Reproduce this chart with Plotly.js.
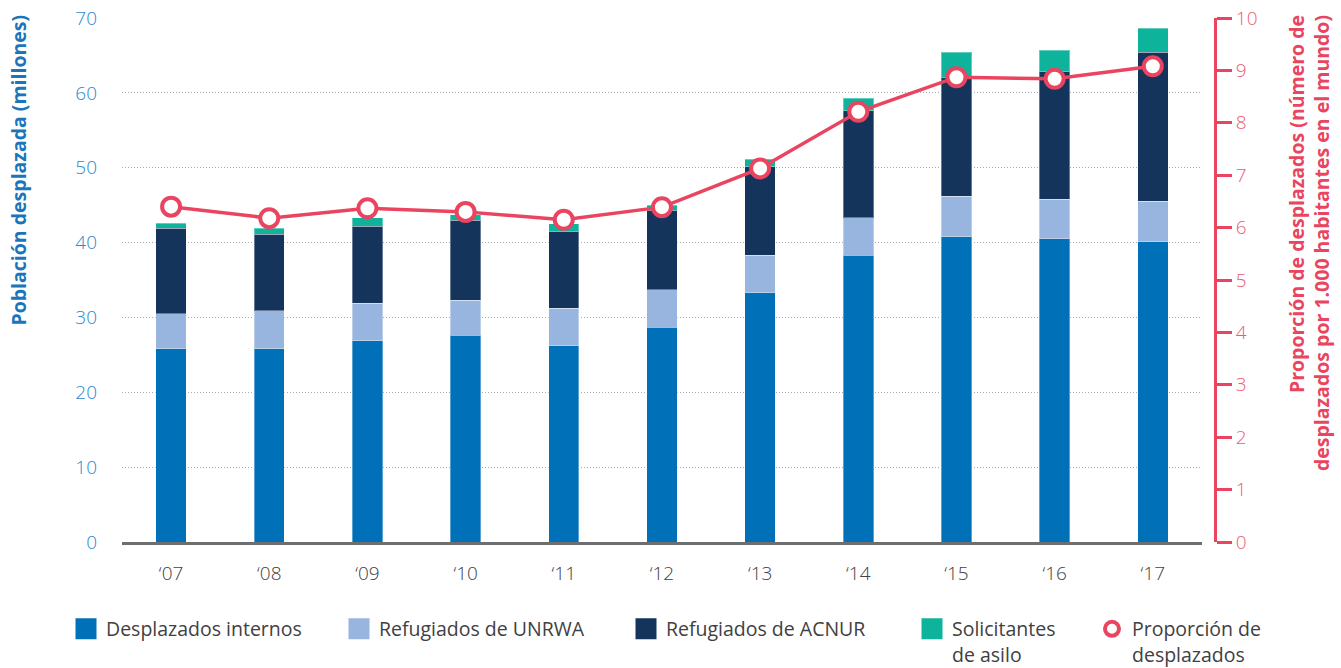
<!DOCTYPE html>
<html>
<head>
<meta charset="utf-8">
<script src="https://cdn.plot.ly/plotly-3.0.1.min.js"></script>
<style>
  html, body { margin: 0; padding: 0; background: #fff; }
  #chart { width: 1341px; height: 668px; }
</style>
</head>
<body>
<div id="chart"></div>
<script>
// años (etiquetas del eje x)
const years = ['‘07', '‘08', '‘09', '‘10', '‘11', '‘12', '‘13', '‘14', '‘15', '‘16', '‘17'];

// millones de personas
const internos = [25.8, 25.8, 26.9, 27.6, 26.2, 28.7, 33.3, 38.3, 40.8, 40.5, 40.1];
const unrwa    = [4.7, 5.1, 5.0, 4.7, 5.0, 5.0, 5.0, 5.0, 5.4, 5.3, 5.4];
const acnur    = [11.4, 10.2, 10.3, 10.7, 10.3, 10.6, 11.8, 14.3, 15.9, 17.1, 19.9];
const asilo    = [0.7, 0.8, 1.1, 0.7, 1.0, 0.7, 1.0, 1.7, 3.3, 2.8, 3.2];

// desplazados por 1.000 habitantes
const proporcion = [6.4, 6.18, 6.37, 6.3, 6.15, 6.39, 7.13, 8.21, 8.87, 8.84, 9.08];

const names = ['Desplazados internos', 'Refugiados de UNRWA', 'Refugiados de ACNUR', 'Solicitantes<br>de asilo'];
const colors = ['#0071b9', '#97b5de', '#15345c', '#0db39b'];
const red = '#ea4560';
const font = '"Open Sans", Lato, sans-serif';

const traces = [];
[internos, unrwa, acnur, asilo].forEach((vals, i) => {
  traces.push({
    type: 'bar', x: years, y: vals, name: names[i],
    marker: {color: colors[i], line: {color: 'rgba(255,255,255,0.35)', width: 1}},
    showlegend: false, hoverinfo: 'y+name',
  });
});

traces.push({
  type: 'scatter', mode: 'lines+markers', x: years, y: proporcion, yaxis: 'y2',
  name: 'Proporción de desplazados', showlegend: false, cliponaxis: false,
  line: {color: red, width: 3.5},
  marker: {size: 18, color: '#fff', line: {color: red, width: 4}},
});

// entradas de leyenda: una leyenda por entrada para colocarlas como en el original
const legendIds = ['legend', 'legend2', 'legend3', 'legend4', 'legend5'];
names.forEach((n, i) => {
  traces.push({
    type: 'scatter', mode: 'markers', x: [null], y: [null], name: n, legend: legendIds[i],
    marker: {symbol: 'square', size: 16, color: colors[i], line: {color: colors[i], width: 5}},
  });
});
traces.push({
  type: 'scatter', mode: 'markers', x: [null], y: [null], name: 'Proporción de<br>desplazados',
  legend: 'legend5',
  marker: {symbol: 'circle', size: 14, color: '#fff', line: {color: red, width: 4}},
});

const legendLeft = [66, 339, 626, 912, 1092];  // px del borde izquierdo de cada leyenda
function legendBox(px) {
  return {
    orientation: 'h', x: (px - 122) / 1093, xanchor: 'left', y: -0.129, yanchor: 'top',
    font: {size: 19.5, color: '#414042', weight: 400},
    valign: 'top', bgcolor: 'rgba(0,0,0,0)',
  };
}

const layout = {
  width: 1341, height: 668,
  margin: {l: 122, r: 126, t: 18, b: 126, autoexpand: false},
  font: {family: font},
  barmode: 'stack',
  bargap: 0.69,
  plot_bgcolor: '#fff', paper_bgcolor: '#fff',
  xaxis: {
    domain: [0, 0.988], range: [-0.5, 10.5], automargin: false,
    showline: true, linecolor: '#6d6e71', linewidth: 3,
    ticks: '', ticklabelstandoff: 12,
    tickfont: {size: 19, color: '#414042', weight: 300},
  },
  yaxis: {
    range: [0, 70], dtick: 10, automargin: false,
    showgrid: true, gridcolor: '#a7a9ac', griddash: '1px,2px', gridwidth: 1,
    zeroline: false, showline: false, ticks: '', ticklabelstandoff: 24,
    tickfont: {size: 19, color: '#2a8ad0', weight: 300},
  },
  yaxis2: {
    overlaying: 'y', side: 'right', anchor: 'free', position: 1, automargin: false,
    range: [0, 10], dtick: 1,
    showgrid: false, zeroline: false,
    showline: true, linecolor: red, linewidth: 3,
    ticks: 'outside', ticklen: 15, tickwidth: 3, tickcolor: red,
    tickfont: {size: 19, color: '#ee5a72', weight: 300},
  },
  annotations: [
    {
      text: 'Población desplazada (millones)', textangle: -90,
      xref: 'paper', yref: 'paper', x: -0.0951, xanchor: 'center', y: 1.0095, yanchor: 'top',
      showarrow: false, font: {size: 19.5, color: '#1b75bb', weight: 'bold'},
    },
    {
      text: 'Proporción de desplazados (número de<br>desplazados por 1.000 habitantes en el mundo)',
      textangle: -90, align: 'right',
      xref: 'paper', yref: 'paper', x: 1.086, xanchor: 'center', y: 1.0095, yanchor: 'top',
      showarrow: false, font: {size: 19.5, color: red, weight: 'bold'},
    },
  ],
};
legendIds.forEach((id, i) => { layout[id] = legendBox(legendLeft[i]); });

Plotly.newPlot('chart', traces, layout, {displayModeBar: false});
</script>
</body>
</html>
